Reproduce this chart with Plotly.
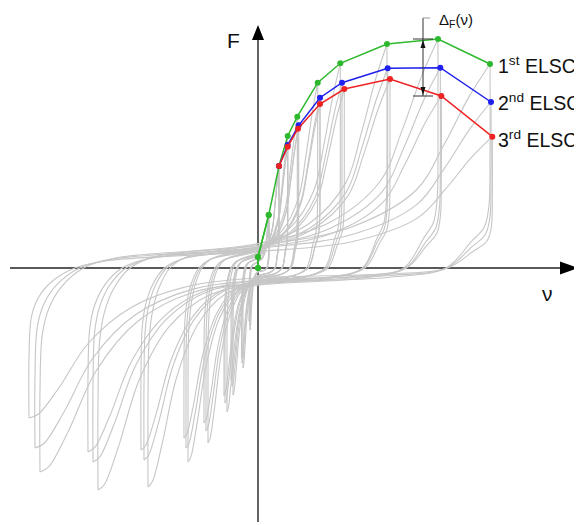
import plotly.graph_objects as go

# ---------------- data (1 unit ~ 1 px) ----------------
# Envelope curves of the 1st, 2nd and 3rd load cycles (ELSC)
env1_nu = [0, 0, 10.7, 21, 29.7, 39.3, 59.7, 82.3, 129, 180, 232]
env1_F = [0, 11, 53, 102, 132, 151.3, 185.3, 204.7, 224, 229, 204]
env2_nu = [21, 29.7, 40.7, 62, 84, 129.7, 182.3, 233]
env2_F = [102, 123, 142.7, 170.3, 185.3, 199.7, 200.3, 166]
env3_nu = [21, 29.7, 40, 62, 86.3, 132, 183.3, 234.3]
env3_F = [102, 121.3, 139.3, 164, 179, 189, 172, 131.3]

# smallest amplitude level, cycles 2 and 3 (not on the envelopes)
lvl1_nu = [11, 11.3]
lvl1_F = [50, 48]

# negative peaks of the gray hysteresis cycles: per level, cycles 1..3
neg_nu = [[-8, -8.5, -9], [-15, -16, -16.5], [-25, -26, -27], [-31, -33, -34],
          [-50, -52, -54], [-70, -72, -74], [-110, -114, -117], [-160, -165, -170],
          [-218, -223, -229]]
neg_F = [[-62, -57, -53], [-100, -95, -90], [-127, -118, -112], [-144, -135, -128],
         [-175, -163, -155], [-194, -180, -170], [-219, -192, -182], [-222, -194, -184],
         [-204, -180, -150]]

delta_label = "Δ<sub>F</sub>(ν)"
env_labels = ["1<sup>st</sup> ELSC", "2<sup>nd</sup> ELSC", "3<sup>rd</sup> ELSC"]

# ---------------- styles ----------------
GREEN = "#2eb82e"
BLUE = "#1f1fef"
RED = "#ee2222"
GRAY = "#c6c6c6"
FONT = "Liberation Sans"

# positive peaks per level and cycle
pos_c1 = list(zip(env1_nu[2:], env1_F[2:]))
pos_c2 = [(lvl1_nu[0], lvl1_F[0])] + list(zip(env2_nu, env2_F))
pos_c3 = [(lvl1_nu[1], lvl1_F[1])] + list(zip(env3_nu, env3_F))
pos_peaks = [[pos_c1[i], pos_c2[i], pos_c3[i]] for i in range(len(pos_c1))]

# generic loop template (fractions of the peak values)
UNLOAD_POS = [(1.0, 1.0), (1.0, 0.55), (0.995, 0.3), (0.975, 0.2), (0.92, 0.13), (0.81, 0.0), (0.57, -0.045)]
RELOAD_NEG = [(0.3, 0.12), (0.55, 0.26), (0.74, 0.5), (0.87, 0.8), (0.96, 0.975), (1.0, 1.0)]
UNLOAD_NEG = [(1.0, 1.0), (1.0, 0.6), (0.99, 0.33), (0.96, 0.2), (0.9, 0.09), (0.8, 0.0), (0.65, -0.05)]
RELOAD_POS = [(0.4, 0.2), (0.68, 0.38), (0.8, 0.6), (0.91, 0.84), (1.0, 1.0)]

gx, gy = [], []
for lvl in range(len(pos_peaks)):
    for c in range(3):
        xp, fp = pos_peaks[lvl][c]
        xn, fn = neg_nu[lvl][c], neg_F[lvl][c]
        # branch: positive peak -> unloading -> pinch -> negative peak
        for a, b in UNLOAD_POS:
            gx.append(a * xp); gy.append(b * fp)
        gx.append(0); gy.append(-0.075 * fp)
        for a, b in RELOAD_NEG:
            gx.append(a * xn); gy.append(b * fn)
        gx.append(None); gy.append(None)
        # branch: negative peak -> unloading -> pinch -> positive peak
        for a, b in UNLOAD_NEG:
            gx.append(a * xn); gy.append(b * fn)
        gx.append(0); gy.append(-0.11 * fn)
        for a, b in RELOAD_POS:
            gx.append(a * xp); gy.append(b * fp)
        gx.append(None); gy.append(None)

fig = go.Figure()
fig.add_trace(go.Scatter(x=gx, y=gy, mode="lines", line=dict(color=GRAY, width=1.1, shape="spline", smoothing=1.0),
                         hoverinfo="skip", showlegend=False))

for nu, F, col in [(env1_nu, env1_F, GREEN), (env2_nu, env2_F, BLUE), (env3_nu, env3_F, RED)]:
    fig.add_trace(go.Scatter(x=nu, y=F, mode="lines+markers", line=dict(color=col, width=1.5),
                             marker=dict(color=col, size=6), showlegend=False))

# redraw first green points on top (they sit on the axis)
fig.add_trace(go.Scatter(x=env1_nu[:3], y=env1_F[:3], mode="lines+markers", line=dict(color=GREEN, width=1.5),
                         marker=dict(color=GREEN, size=6), showlegend=False))

shapes = []
# axes
shapes.append(dict(type="line", x0=-248, x1=305, y0=0, y1=0, line=dict(color="#222", width=1.4), layer="below"))
shapes.append(dict(type="line", x0=0, x1=0, y0=-254, y1=230, line=dict(color="#222", width=1.4), layer="below"))
shapes.append(dict(type="path", path="M 0,243 L -6,228 L 6,228 Z", fillcolor="black", line=dict(width=0)))
shapes.append(dict(type="path", path="M 320,0 L 302,6.5 L 302,-6.5 Z", fillcolor="black", line=dict(width=0)))

# Delta_F dimension at level 8
dx = 165
ftop = env1_F[9]
fbot = env3_F[6]
dk = dict(color="#333", width=1)
shapes.append(dict(type="line", x0=dx, x1=dx, y0=fbot, y1=250, line=dk))
shapes.append(dict(type="line", x0=dx, x1=dx + 7, y0=250, y1=250, line=dict(color="#999", width=1)))
shapes.append(dict(type="line", x0=dx - 10, x1=dx + 10, y0=ftop, y1=ftop, line=dk))
shapes.append(dict(type="line", x0=dx - 10, x1=dx + 10, y0=fbot, y1=fbot, line=dk))
shapes.append(dict(type="path", path=f"M {dx},{ftop-1} L {dx-2.5},{ftop-9} L {dx+2.5},{ftop-9} Z",
                   fillcolor="#111", line=dict(width=0)))
shapes.append(dict(type="path", path=f"M {dx},{fbot+1} L {dx-2.5},{fbot+9} L {dx+2.5},{fbot+9} Z",
                   fillcolor="#111", line=dict(width=0)))

annotations = [
    dict(x=-25, y=228, text="F", showarrow=False, font=dict(family=FONT, size=21, color="#111")),
    dict(x=289, y=-25, text="ν", showarrow=False, font=dict(family=FONT, size=21, color="#111")),
    dict(x=179, y=248, text=delta_label, showarrow=False, xanchor="left", font=dict(family=FONT, size=15, color="#111")),
]
for lab, yy in zip(env_labels, [203, 166, 129]):
    annotations.append(dict(x=238, y=yy, text=lab, showarrow=False, xanchor="left", yanchor="middle",
                            font=dict(family=FONT, size=19.5, color="#111")))

# the page body has an 8 px margin: the figure starts at page pixel (8, 8)
fig.update_layout(
    width=574, height=517, margin=dict(l=0, r=0, t=0, b=0),
    paper_bgcolor="white", plot_bgcolor="white",
    xaxis=dict(range=[-250, 324], visible=False, fixedrange=True),
    yaxis=dict(range=[-257, 260], visible=False, fixedrange=True),
    shapes=shapes, annotations=annotations, showlegend=False,
)
fig.write_html("out.html")
